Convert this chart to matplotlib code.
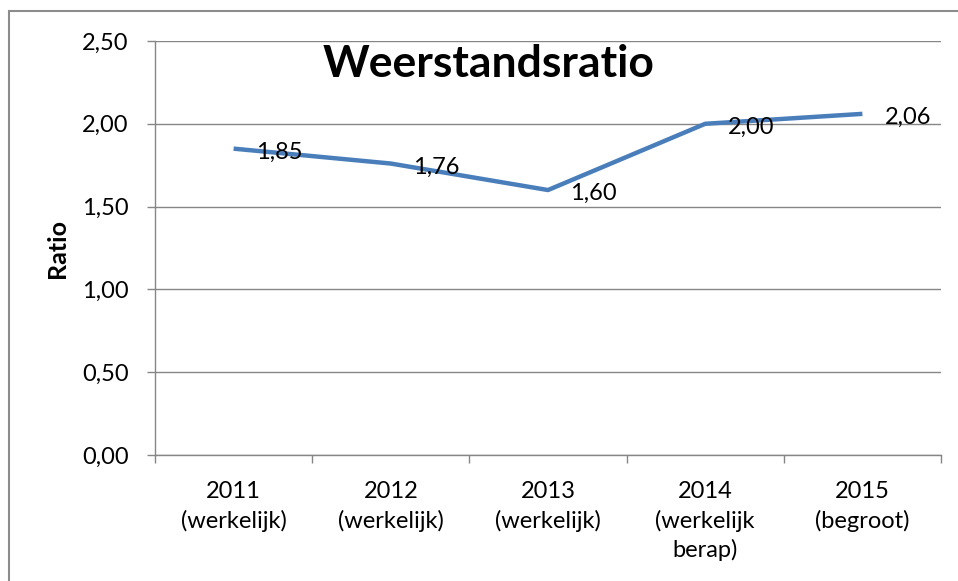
import matplotlib
matplotlib.use("Agg")
import matplotlib.pyplot as plt
from matplotlib.patches import Rectangle
from matplotlib.ticker import FuncFormatter, FixedLocator

categories = ["2011\n(werkelijk)", "2012\n(werkelijk)", "2013\n(werkelijk)",
              "2014\n(werkelijk\nberap)", "2015\n(begroot)"]
values = [1.85, 1.76, 1.60, 2.00, 2.06]
value_labels = ["1,85", "1,76", "1,60", "2,00", "2,06"]
y_ticks = [0.0, 0.5, 1.0, 1.5, 2.0, 2.5]

plt.rcParams['font.family'] = ['Lato', 'DejaVu Sans']

W, H = 958, 581
fig = plt.figure(figsize=(W / 100, H / 100), dpi=100)
fig.patch.set_facecolor('white')

ax = fig.add_axes([155 / W, (H - 455) / H, (941 - 155) / W, (455 - 41) / H])

grey = '#868686'
x = list(range(len(values)))
ax.plot(x, values, color='#4a7ebb', lw=3.2, solid_capstyle='butt', zorder=3)

for xi, v, lab in zip(x, values, value_labels):
    ax.annotate(lab, (xi, v), xytext=(16, -1), textcoords='offset points',
                ha='left', va='center_baseline', fontsize=17, color='black', zorder=4)

ax.set_xlim(-0.5, len(values) - 0.5)
ax.set_ylim(0, 2.5)
ax.set_yticks(y_ticks)
ax.yaxis.set_major_formatter(FuncFormatter(lambda v, p: f"{v:.2f}".replace('.', ',')))
ax.grid(axis='y', color=grey, lw=1)
ax.set_axisbelow(True)

ax.xaxis.set_major_locator(FixedLocator([i - 0.5 for i in range(len(values) + 1)]))
ax.xaxis.set_major_formatter(FuncFormatter(lambda v, p: ""))
ax.set_xticks(x, minor=True)
ax.set_xticklabels(categories, minor=True, fontsize=17, linespacing=1.4)
ax.tick_params(axis='x', which='minor', length=0, pad=19)
ax.tick_params(axis='x', which='major', length=6, color=grey, width=1, direction='out')
ax.tick_params(axis='y', length=6, color=grey, width=1, direction='out', labelsize=17, pad=13)

for s in ['top', 'right']:
    ax.spines[s].set_visible(False)
for s in ['left', 'bottom']:
    ax.spines[s].set_color(grey)
    ax.spines[s].set_linewidth(1)

ax.set_ylabel("Ratio", fontsize=18, fontweight='bold')
ax.yaxis.set_label_coords(-(155 - 69) / (941 - 155), 0.5)

fig.text(489 / W, (H - 77) / H, "Weerstandsratio", fontsize=32, fontweight='bold',
         ha='center', va='baseline')

fig.patches.append(Rectangle((9 / W, -0.1), 1.2, (H - 11) / H + 0.1, transform=fig.transFigure,
                             fill=False, edgecolor='#8c8c8c', lw=1.5, clip_on=False))

fig.savefig("out.png", dpi=100, facecolor='white')
